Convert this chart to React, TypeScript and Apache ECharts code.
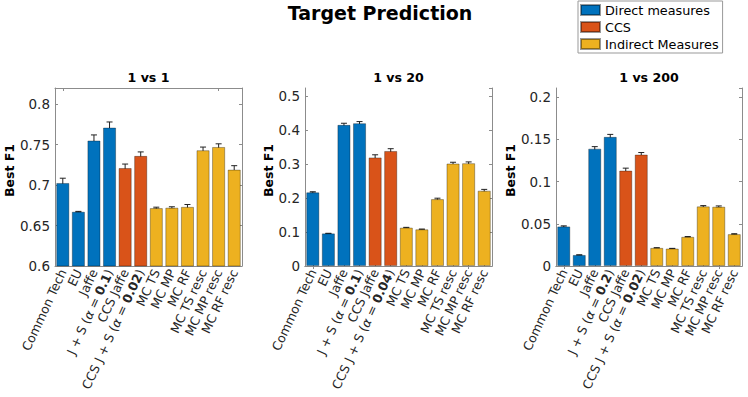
import React, { useEffect, useRef } from 'react';
import * as echarts from 'echarts';

const labels1 = ['Common Tech', 'EU', 'Jaffe', 'J + S (α = 0.1)', 'CCS Jaffe', 'CCS J + S (α = 0.02)', 'MC TS', 'MC MP', 'MC RF', 'MC TS resc', 'MC MP resc', 'MC RF resc'];
const labels2 = ['Common Tech', 'EU', 'Jaffe', 'J + S (α = 0.1)', 'CCS Jaffe', 'CCS J + S (α = 0.04)', 'MC TS', 'MC MP', 'MC RF', 'MC TS resc', 'MC MP resc', 'MC RF resc'];
const labels3 = ['Common Tech', 'EU', 'Jaffe', 'J + S (α = 0.2)', 'CCS Jaffe', 'CCS J + S (α = 0.02)', 'MC TS', 'MC MP', 'MC RF', 'MC TS resc', 'MC MP resc', 'MC RF resc'];

const groups = ['Direct measures', 'Direct measures', 'Direct measures', 'Direct measures', 'CCS', 'CCS', 'Indirect Measures', 'Indirect Measures', 'Indirect Measures', 'Indirect Measures', 'Indirect Measures', 'Indirect Measures'];
const groupNames = ['Direct measures', 'CCS', 'Indirect Measures'];
const groupColors = ['#0072BD', '#D95319', '#EDB120'];

const values1 = [0.7025, 0.667, 0.755, 0.771, 0.721, 0.736, 0.6715, 0.672, 0.673, 0.743, 0.747, 0.719];
const errors1 = [0.006, 0.0005, 0.007, 0.007, 0.005, 0.005, 0.0012, 0.0012, 0.003, 0.004, 0.004, 0.005];
const values2 = [0.217, 0.096, 0.416, 0.421, 0.32, 0.339, 0.113, 0.108, 0.197, 0.302, 0.303, 0.222];
const errors2 = [0.002, 0.0005, 0.005, 0.005, 0.008, 0.007, 0.001, 0.001, 0.003, 0.004, 0.004, 0.004];
const values3 = [0.0468, 0.013, 0.139, 0.153, 0.113, 0.132, 0.0214, 0.0206, 0.0345, 0.0706, 0.0702, 0.0377];
const errors3 = [0.0008, 0.0003, 0.0025, 0.003, 0.003, 0.0025, 0.0003, 0.0003, 0.0004, 0.001, 0.001, 0.0006];

const panelTitles = ['1 vs 1', '1 vs 20', '1 vs 200'];
const yMins = [0.6, 0, 0];
const yMaxs = [0.82, 0.525, 0.211];
const yIntervals = [0.05, 0.1, 0.05];

const FONT = 'DejaVu Sans';
const AXIS_COLOR = '#8c8c8c';
const TEXT_COLOR = '#262626';

const fmtLabel = (s: string) => {
  const m = s.match(/^(.*)\(α = ([\d.]+)\)$/);
  if (!m) return s;
  return `${m[1]}({a|α} = {b|${m[2]}})`;
};

export default function App() {
  const ref = useRef<HTMLDivElement>(null);
  useEffect(() => {
    if (!ref.current) return;
    const chart = echarts.init(ref.current, undefined, { renderer: 'svg' });
    const panels = [
      { labels: labels1, values: values1, errors: errors1 },
      { labels: labels2, values: values2, errors: errors2 },
      { labels: labels3, values: values3, errors: errors3 },
    ];
    const gridLefts = [55, 305, 556];
    const gridWidths = [187, 187, 186];
    const nameGaps = [38, 29, 37];
    const grids: any[] = [];
    const xAxes: any[] = [];
    const yAxes: any[] = [];
    const series: any[] = [];
    const graphics: any[] = [];
    panels.forEach((p, k) => {
      grids.push({ left: gridLefts[k], top: 88, width: gridWidths[k], height: 178 });
      const tickStyle = { show: true, inside: true, length: 3, lineStyle: { color: AXIS_COLOR } };
      xAxes.push({
        type: 'category', gridIndex: k, data: p.labels, position: 'bottom',
        axisLine: { show: true, lineStyle: { color: AXIS_COLOR } },
        axisTick: { ...tickStyle, alignWithLabel: true },
        axisLabel: {
          interval: 0, rotate: 65, margin: 4, fontSize: 12.5, fontFamily: FONT, color: TEXT_COLOR,
          formatter: fmtLabel,
          rich: {
            a: { fontStyle: 'italic', fontSize: 12.5, fontFamily: FONT, color: TEXT_COLOR },
            b: { fontWeight: 'bold', fontSize: 12.5, fontFamily: FONT, color: TEXT_COLOR },
          },
        },
      });
      xAxes.push({
        type: 'category', gridIndex: k, data: p.labels, position: 'top',
        axisLine: { show: true, lineStyle: { color: AXIS_COLOR } },
        axisTick: { ...tickStyle, alignWithLabel: true },
        axisLabel: { show: false },
      });
      yAxes.push({
        type: 'value', gridIndex: k, position: 'left', min: yMins[k], max: yMaxs[k], interval: yIntervals[k],
        axisLine: { show: true, lineStyle: { color: AXIS_COLOR } },
        axisTick: tickStyle,
        splitLine: { show: false },
        axisLabel: { showMaxLabel: false, margin: 5, fontSize: 13.5, fontFamily: FONT, color: TEXT_COLOR },
        name: 'Best F1', nameLocation: 'middle', nameGap: nameGaps[k],
        nameTextStyle: { fontFamily: FONT, fontWeight: 'bold', fontSize: 12.5, color: '#000', padding: [0, 0, 0, 13] },
      });
      yAxes.push({
        type: 'value', gridIndex: k, position: 'right', min: yMins[k], max: yMaxs[k], interval: yIntervals[k],
        axisLine: { show: true, lineStyle: { color: AXIS_COLOR } },
        axisTick: tickStyle,
        splitLine: { show: false },
        axisLabel: { show: false },
      });
      groupNames.forEach((g, gi) => {
        series.push({
          type: 'bar', name: g, xAxisIndex: 2 * k, yAxisIndex: 2 * k, stack: 'p' + k,
          barCategoryGap: '17%',
          itemStyle: { color: groupColors[gi], borderColor: 'rgba(0,0,0,0.4)', borderWidth: 0.8 },
          data: p.values.map((v, i) => (groups[i] === g ? v : '-')),
        });
      });
      series.push({
        type: 'custom', xAxisIndex: 2 * k, yAxisIndex: 2 * k, silent: true,
        data: p.values.map((v, i) => [i, v - p.errors[i], v + p.errors[i]]),
        encode: { x: 0, y: [1, 2] },
        renderItem: (params: any, api: any) => {
          const i = api.value(0);
          const lo = api.coord([i, api.value(1)]);
          const hi = api.coord([i, api.value(2)]);
          const w = 3;
          const st = { stroke: '#222', lineWidth: 1 };
          return {
            type: 'group',
            children: [
              { type: 'line', shape: { x1: lo[0], y1: lo[1], x2: hi[0], y2: hi[1] }, style: st },
              { type: 'line', shape: { x1: lo[0] - w, y1: lo[1], x2: lo[0] + w, y2: lo[1] }, style: st },
              { type: 'line', shape: { x1: hi[0] - w, y1: hi[1], x2: hi[0] + w, y2: hi[1] }, style: st },
            ],
          };
        },
      });
      graphics.push({
        type: 'text', x: gridLefts[k] + gridWidths[k] / 2, y: 77,
        style: { text: panelTitles[k], fontFamily: FONT, fontWeight: 'bold', fontSize: 12.6, fill: '#000', align: 'center', verticalAlign: 'middle' },
      });
    });
    graphics.push({
      type: 'text', x: 380, y: 13,
      style: { text: 'Target Prediction', fontFamily: FONT, fontWeight: 'bold', fontSize: 19, fill: '#000', align: 'center', verticalAlign: 'middle' },
    });
    chart.setOption({
      animation: false,
      backgroundColor: '#fff',
      grid: grids,
      xAxis: xAxes,
      yAxis: yAxes,
      series,
      graphic: graphics,
      legend: {
        orient: 'vertical', left: 578, top: 1,
        data: groupNames,
        icon: 'rect', itemWidth: 19, itemHeight: 10, itemGap: 3,
        borderColor: '#999', borderWidth: 1, padding: [2, 4, 2, 2],
        textStyle: { fontFamily: FONT, fontSize: 12.8, color: '#000', lineHeight: 14 },
        selectedMode: false,
      },
    });
    return () => chart.dispose();
  }, []);
  return <div ref={ref} style={{ position: 'absolute', left: 0, top: 0, width: 748, height: 397 }} />;
}
